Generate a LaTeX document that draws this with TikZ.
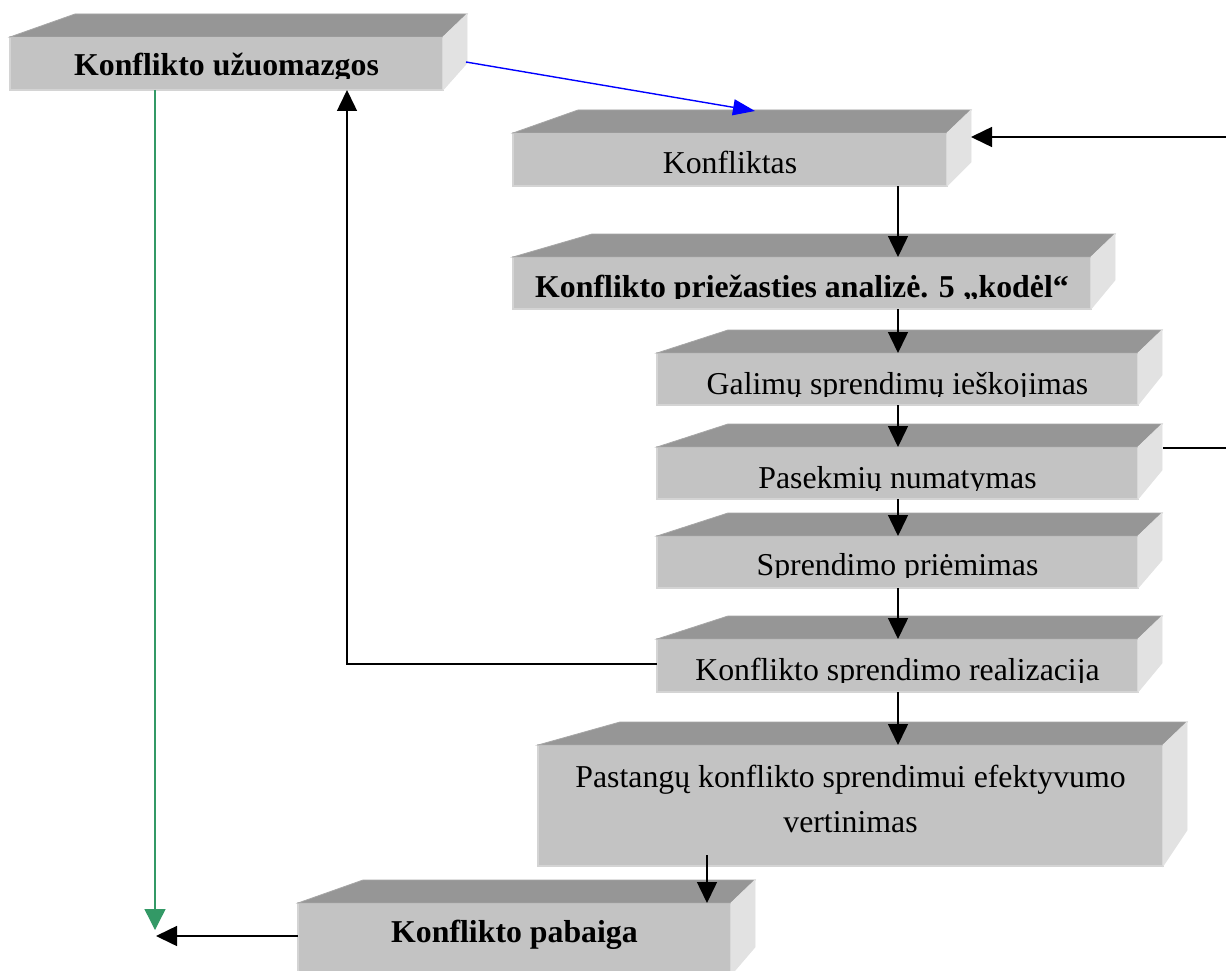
\documentclass[tikz,border=0pt]{standalone}
\usepackage{fontspec}
\setmainfont{Liberation Serif}
\usetikzlibrary{calc,arrows.meta}

\definecolor{facetop}{RGB}{150,150,150}
\definecolor{facefront}{RGB}{195,195,195}
\definecolor{faceside}{RGB}{226,226,226}
\definecolor{faceedge}{RGB}{212,212,212}
\definecolor{seagreen}{RGB}{51,153,102}

\tikzset{
  front/.style={draw=faceedge, line width=1.5pt, fill=facefront,
    inner sep=0pt, outer sep=0pt, anchor=north west},
  topface/.style={fill=facetop, draw=facetop!85!white, line width=0.8pt},
  sideface/.style={fill=faceside, draw=faceside, line width=0.8pt},
  lbl/.style={anchor=base, inner sep=0pt, font=\fontsize{31.8}{45}\selectfont},
  arr/.style={draw=black, line width=1.5pt, -{Triangle[length=21pt,width=20pt]}},
  bluearr/.style={draw=blue, line width=1.4pt, -{Triangle[length=22pt,width=16pt]}},
  greenarr/.style={draw=seagreen, line width=1.4pt, -{Triangle[length=21pt,width=21pt]}},
  plain/.style={draw=black, line width=1.5pt}
}

% front face of a slab: name, left x, top y, width, height
\newcommand\slab[5]{%
  \node[front, minimum width=#4pt, minimum height=#5pt] (#1) at (#2,#3) {};}
% top and right faces of a slab: name, offset of the back-left corner, drop of the side
\newcommand\slabfaces[3]{%
  \path[topface] (#1.north west) -- ++(#2,-23) -- ($(#1.north east)+(24,-23)$)
    -- (#1.north east) -- cycle;
  \path[sideface] (#1.north east) -- ++(24,-23) -- ($(#1.south east)+(24,-#3)$)
    -- (#1.south east) -- cycle;}
% caption of a slab, cut off a little above the bottom edge: name, baseline, margin, text
\newcommand\slabtext[4]{%
  \begin{scope}
    \clip (#1.north west) rectangle ([yshift=#3pt]#1.south east);
    \node[lbl] at (#1.center |- 0,#2) {#4};
  \end{scope}}

\begin{document}
\begin{tikzpicture}[x=1pt,y=-1pt]
  \useasboundingbox (0,0) rectangle (1226,971);
  \fill[white] (0,0) rectangle (1226,971);
  \clip (0,0) rectangle (1226,971);

  % slabs
  \slab{b1}{10}{37}{433}{53}
  \slabfaces{b1}{65}{27}
  \slab{b2}{513}{133}{434}{53}
  \slabfaces{b2}{65}{24}
  \slab{b3}{513}{257}{578}{52}
  \slabfaces{b3}{79}{29}
  \slab{b4}{657}{353}{481}{52}
  \slabfaces{b4}{71}{30}
  \slab{b5}{657}{447}{481}{52}
  \slabfaces{b5}{71}{29}
  \slab{b6}{657}{536}{481}{52}
  \slabfaces{b6}{71}{28}
  \slab{b7}{657}{639}{481}{53}
  \slabfaces{b7}{71}{29}
  \slab{b8}{538}{745}{625}{121}
  \slabfaces{b8}{82}{36}
  \slab{b9}{298}{903}{433}{72}
  \slabfaces{b9}{65}{28}

  % captions
  \slabtext{b1}{76}{11}{\bfseries Konflikto užuomazgos}
  \slabtext{b2}{173}{0}{Konfliktas}
  \slabtext{b3}{297}{11}{\bfseries Konflikto priežasties analizė. 5 „kodėl“}
  \slabtext{b4}{394}{9}{Galimų sprendimų ieškojimas}
  \slabtext{b5}{488}{9}{Pasekmių numatymas}
  \slabtext{b6}{575}{11}{Sprendimo priėmimas}
  \slabtext{b7}{680}{10}{Konflikto sprendimo realizacija}
  \node[lbl, align=center] at (b8.center |- 0,832)
    {Pastangų konflikto sprendimui efektyvumo\\vertinimas};
  \node[lbl] at (b9.center |- 0,942) {\bfseries Konflikto pabaiga};

  % connectors
  \coordinate (col) at (898,0);
  \coordinate (col2) at (707,0);
  \coordinate (rin) at (1230,137);
  \coordinate (rout) at (1230,448);
  \coordinate (gend) at (155,930);
  \coordinate (lend) at (156,936);

  \draw[bluearr] ($(b1.north east)+(23,25)$) -- ($(b2.north west)+(242,-22)$);
  \draw[arr] (rin) -- ($(b2.north east)+(24,4)$);
  \draw[arr] (b2.south -| col) -- (b3.north -| col);
  \draw[arr] (b3.south -| col) -- (b4.north -| col);
  \draw[arr] (b4.south -| col) -- (b5.north -| col);
  \draw[arr] (b5.south -| col) -- (b6.north -| col);
  \draw[arr] (b6.south -| col) -- (b7.north -| col);
  \draw[arr] (b7.south -| col) -- (b8.north -| col);
  \draw[arr, shorten <=-11pt] (b8.south -| col2) -- (b9.north -| col2);
  \draw[plain] ($(b5.north east)+(25,1)$) -- (rout);
  \draw[arr] ([yshift=1.5pt]b7.west) -| ([xshift=120.5pt]b1.south);
  \draw[greenarr] ([xshift=-71.5pt]b1.south) -- (gend);
  \draw[arr] ([yshift=3pt]b9.west) -- (lend);
\end{tikzpicture}
\end{document}
